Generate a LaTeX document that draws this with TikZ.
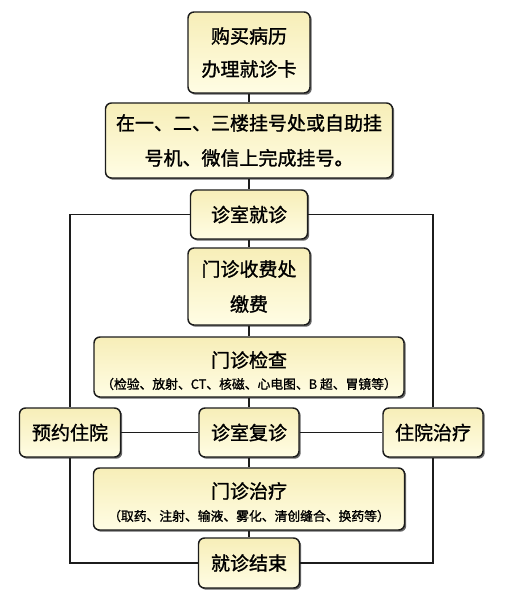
\documentclass[tikz,border=0pt]{standalone}
\usepackage{fontspec}
\setmainfont{Noto Sans CJK SC}[FakeBold=1.3]
\usetikzlibrary{shadows}
\definecolor{boxtop}{HTML}{F7EEB8}
\definecolor{boxbot}{HTML}{FFFDE4}
\definecolor{edge}{HTML}{1C1C1C}
\tikzset{
  box/.style={draw=edge, line width=1.1pt, rounded corners=4.5pt,
    top color=boxtop, bottom color=boxbot,
    drop shadow={shadow xshift=1.3pt, shadow yshift=-1.3pt, fill=black!60, opacity=1},
    align=center, inner sep=0pt, font=\fontsize{14.25}{24.75}\selectfont},
  sz/.style 2 args={minimum width=#1*0.75pt, minimum height=#2*0.75pt},
  title/.style={inner sep=0pt, font=\fontsize{14.25}{17}\selectfont},
  subt/.style={inner sep=0pt, font=\fontsize{9.6}{12}\selectfont},
  link/.style={draw=edge, line width=1pt}
}
\begin{document}
\begin{tikzpicture}[x=0.75pt,y=-0.75pt]
\useasboundingbox (0,0) rectangle (510,602);
\node[box, sz={122}{81}] (b1) at (249,52.5) {购买病历\\办理就诊卡};
\node[box, sz={287}{75}, font=\fontsize{14.25}{26.25}\selectfont] (b2) at (249,140.5) {在一、二、三楼挂号处或自助挂\\号机、微信上完成挂号。};
\node[box, sz={117}{49}] (b3) at (249,214.5) {诊室就诊};
\node[box, sz={122}{77}, font=\fontsize{14.25}{26.25}\selectfont] (b4) at (249,286.5) {门诊收费处\\缴费};
\node[box, sz={310}{60}] (b5) at (249,367) {};
\node[title] (b5t) at (249,360) {门诊检查};
\node[subt] (b5s) at (249,384) {（检验、放射、CT、核磁、心电图、B 超、胃镜等）};
\node[box, sz={101}{49}] (yy) at (70,432.5) {预约住院};
\node[box, sz={100}{49}] (fz) at (249,432.5) {诊室复诊};
\node[box, sz={100}{49}] (zy) at (433,432.5) {住院治疗};
\node[box, sz={311}{62}] (b7) at (249,499) {};
\node[title] (b7t) at (249,491) {门诊治疗};
\node[subt] (b7s) at (249,516) {（取药、注射、输液、雾化、清创缝合、换药等）};
\node[box, sz={101}{50}] (b8) at (249,563) {就诊结束};
\draw[link] (b1.south) -- (b2.north);
\draw[link] (b2.south) -- (b3.north);
\draw[link] (b3.south) -- (b4.north);
\draw[link] (b4.south) -- (b5.north);
\draw[link] (b5.south) -- (fz.north);
\draw[link] (fz.south) -- (b7.north);
\draw[link] (b7.south) -- (b8.north);
\draw[link] (b3.west) -| (yy.north);
\draw[link] (b3.east) -| (zy.north);
\draw[link] (yy.east) -- (fz.west);
\draw[link] (fz.east) -- (zy.west);
\draw[link] (yy.south) |- (b8.west);
\draw[link] (zy.south) |- (b8.east);
\end{tikzpicture}
\end{document}
